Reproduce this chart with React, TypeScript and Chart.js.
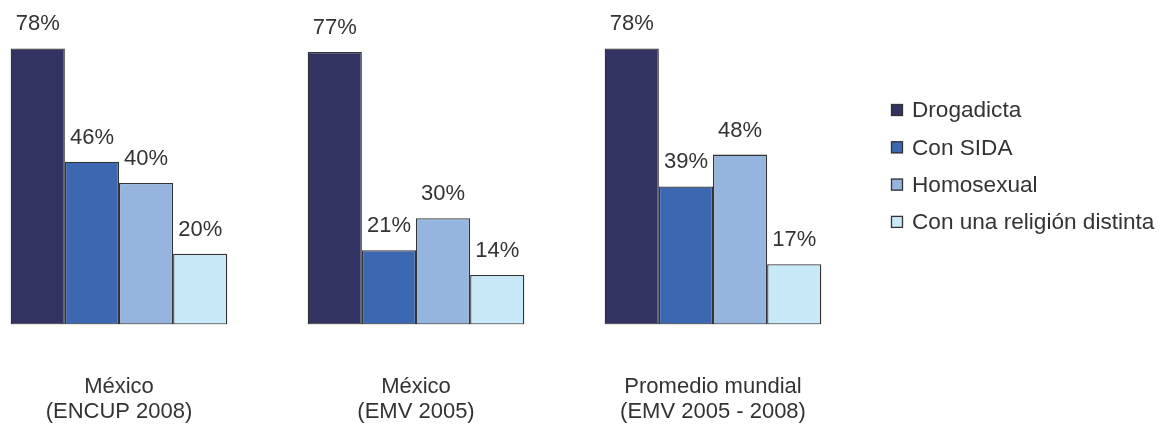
import React, { useEffect, useRef } from "react";
import { Chart, registerables } from "chart.js";

Chart.register(...registerables);

// ---- data ----
const groupLabels: string[][] = [
  ["México", "(ENCUP 2008)"],
  ["México", "(EMV 2005)"],
  ["Promedio mundial", "(EMV 2005 - 2008)"],
];
const groupPositions = [0, 1, 2];
const seriesNames = ["Drogadicta", "Con SIDA", "Homosexual", "Con una religión distinta"];
const drogadicta = [78, 77, 78];
const conSida = [46, 21, 39];
const homosexual = [40, 30, 48];
const religionDistinta = [20, 14, 17];
const seriesColors = ["#333363", "#3B68B0", "#95B4DE", "#C7E9F8"];

const FONT = "'Liberation Sans', Arial, Helvetica, sans-serif";
const TEXT = "#333333";

const W = 1151;
const H = 423;
const UNIT = 297; // px per group
const FIRST_CENTER = 111; // canvas px of the first group center
const AREA_RIGHT = 860;
const AREA_TOP = 33.3;
const AREA_BOTTOM = 316.5;

const valueLabelPlugin = {
  id: "valueLabels",
  afterDatasetsDraw(chart: any) {
    const ctx = chart.ctx;
    ctx.save();
    ctx.font = `22px ${FONT}`;
    ctx.fillStyle = TEXT;
    ctx.textAlign = "center";
    ctx.textBaseline = "alphabetic";
    chart.data.datasets.forEach((ds: any, di: number) => {
      const meta = chart.getDatasetMeta(di);
      meta.data.forEach((el: any, i: number) => {
        const v = ds.data[i].y;
        ctx.fillText(`${v}%`, el.x, el.y - 18);
      });
    });
    ctx.restore();
  },
};

const legendPlugin = {
  id: "sideLegend",
  afterDraw(chart: any) {
    const ctx = chart.ctx;
    ctx.save();
    ctx.font = `22.6px ${FONT}`;
    ctx.textAlign = "left";
    ctx.textBaseline = "middle";
    const x0 = 883;
    const y0 = 102;
    const step = 37.3;
    chart.data.datasets.forEach((ds: any, i: number) => {
      const cy = y0 + i * step;
      ctx.fillStyle = ds.backgroundColor;
      ctx.fillRect(x0, cy - 6, 12, 12);
      ctx.strokeStyle = "#333333";
      ctx.lineWidth = 1.3;
      ctx.strokeRect(x0 + 0.5, cy - 5.5, 11, 11);
      ctx.fillStyle = TEXT;
      ctx.fillText(ds.label, x0 + 21, cy + 1);
    });
    ctx.restore();
  },
};

export default function App() {
  const ref = useRef<HTMLCanvasElement | null>(null);

  useEffect(() => {
    if (!ref.current) return;
    const values = [drogadicta, conSida, homosexual, religionDistinta];
    const xMin = -FIRST_CENTER / UNIT;
    const xMax = xMin + AREA_RIGHT / UNIT;
    const chart = new Chart(ref.current, {
      type: "bar",
      data: {
        datasets: seriesNames.map((name, si) => ({
          label: name,
          data: groupPositions.map((x, i) => ({ x, y: values[si][i] })),
          backgroundColor: seriesColors[si],
          borderColor: "#333333",
          borderWidth: 1.3,
          borderSkipped: false,
          categoryPercentage: 0.7293,
          barPercentage: 1,
        })),
      },
      options: {
        responsive: false,
        animation: false,
        layout: { padding: { left: 0, right: W - AREA_RIGHT, top: AREA_TOP, bottom: 0 } },
        plugins: {
          legend: { display: false },
          tooltip: { enabled: false },
        },
        scales: {
          x: {
            type: "linear",
            offset: false,
            bounds: "data",
            min: xMin,
            max: xMax,
            grid: { display: false, drawTicks: false, offset: false },
            border: { display: false },
            afterBuildTicks: (scale: any) => {
              scale.ticks = groupPositions.map((v) => ({ value: v }));
            },
            afterFit: (scale: any) => {
              scale.height = H - AREA_BOTTOM;
              scale.paddingLeft = 0;
              scale.paddingRight = 0;
            },
            ticks: {
              padding: 50,
              autoSkip: false,
              maxRotation: 0,
              color: TEXT,
              font: { family: FONT, size: 22, lineHeight: 25 / 22 },
              callback: (value: any) => groupLabels[groupPositions.indexOf(Number(value))] ?? "",
            },
          },
          y: {
            display: false,
            min: 0,
            max: 80,
          },
        },
      } as any,
      plugins: [valueLabelPlugin, legendPlugin],
    });
    return () => chart.destroy();
  }, []);

  return (
    <canvas
      ref={ref}
      width={W}
      height={H}
      style={{ display: "block", marginBottom: -8 }}
    />
  );
}
